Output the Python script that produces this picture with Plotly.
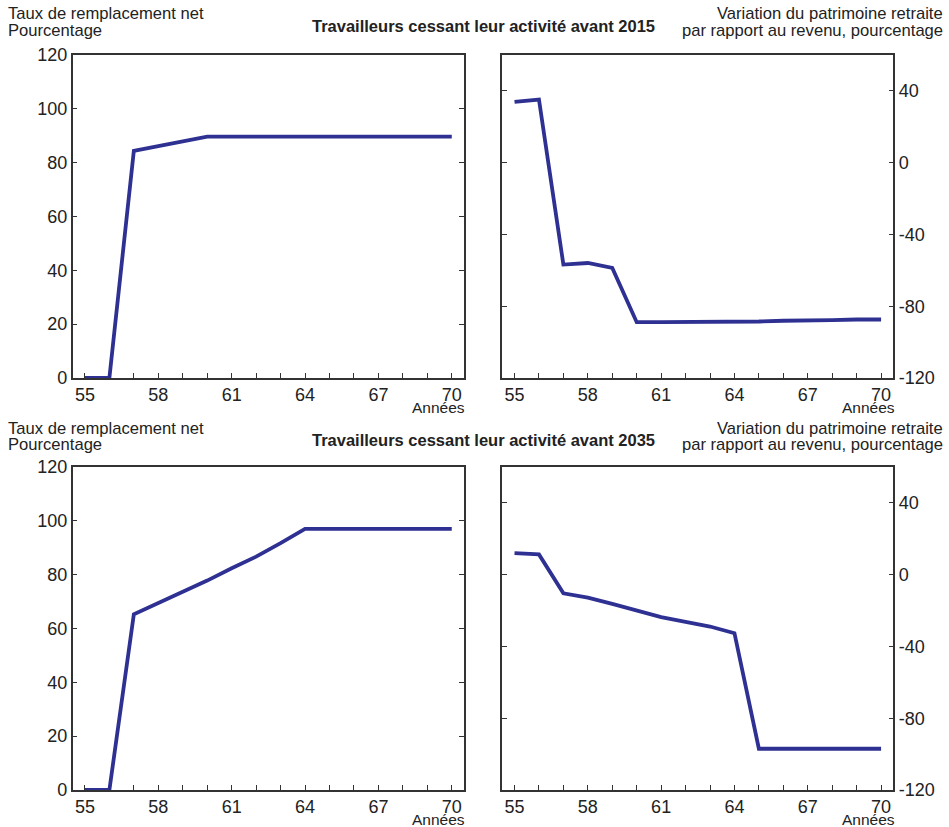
import plotly.graph_objects as go

years = list(range(55, 71))
tick_labels = ["55", "", "", "58", "", "", "61", "", "", "64", "", "", "67", "", "", "70"]

rr_2015 = [0, 0, 84.4, 86.1, 87.8, 89.7, 89.7, 89.7, 89.7, 89.7, 89.7, 89.7, 89.7, 89.7, 89.7, 89.7]
pat_2015 = [33.9, 35.2, -56.8, -55.9, -58.7, -88.9, -88.9, -88.9, -88.9, -88.5, -88.5, -88.1, -88.1, -87.8, -87.4, -87.4]
rr_2035 = [0, 0, 65.3, 69.4, 73.4, 77.8, 82.4, 86.7, 91.7, 97.0, 97.0, 97.0, 97.0, 97.0, 97.0, 97.0]
pat_2035 = [12.0, 11.3, -10.4, -12.8, -16.3, -20.2, -23.7, -26.3, -28.9, -32.6, -97.0, -97.0, -97.0, -97.0, -97.0, -97.0]

left_ticks = [0, 20, 40, 60, 80, 100, 120]
right_ticks = [-120, -80, -40, 0, 40]
right_tick_text = ["-120", "-80", "-40", "0", "40"]

title_top = "Travailleurs cessant leur activité avant 2015"
title_bot = "Travailleurs cessant leur activité avant 2035"
left_lbl = ["Taux de remplacement net", "Pourcentage"]
right_lbl = ["Variation du patrimoine retraite", "par rapport au revenu, pourcentage"]
x_lbl = "Années"

W, H = 949, 827
LINE = "#2e3192"
AX = "#333333"
FONT = "Liberation Sans, Arial, sans-serif"

# panel boxes in pixels
px_left = (72.7, 464)
px_right = (502.3, 893.3)
py_top = (55, 378)
py_bot = (467, 790)

def xd(p):
    return [p[0] / W, p[1] / W]

def yd(p):
    return [1 - p[1] / H, 1 - p[0] / H]

fig = go.Figure()
panels = [
    ("x", "y", rr_2015),
    ("x2", "y2", pat_2015),
    ("x3", "y3", rr_2035),
    ("x4", "y4", pat_2035),
]
for xa, ya, vals in panels:
    fig.add_trace(go.Scatter(x=years, y=vals, xaxis=xa, yaxis=ya, mode="lines",
                             line=dict(color=LINE, width=3.8), showlegend=False,
                             cliponaxis=False))

xcommon = dict(range=[54.5, 70.5], tickvals=years, ticktext=tick_labels, ticks="inside",
               ticklen=5, tickwidth=1, tickcolor=AX, showline=True, linecolor=AX, linewidth=1.5,
               mirror=True, showgrid=False, zeroline=False, tickfont=dict(size=18, color="#222"),
               automargin=False)
ycommon = dict(ticks="inside", ticklen=5, tickwidth=1, tickcolor=AX, showline=True, linecolor=AX,
               linewidth=1.5, mirror="ticks", showgrid=False, zeroline=False,
               tickfont=dict(size=18, color="#222"), automargin=False)

layout = dict(
    width=W, height=H, margin=dict(l=0, r=0, t=0, b=0),
    paper_bgcolor="white", plot_bgcolor="white",
    font=dict(family=FONT, color="#222"),
    xaxis=dict(domain=xd(px_left), anchor="y", **xcommon),
    xaxis2=dict(domain=xd(px_right), anchor="y2", **xcommon),
    xaxis3=dict(domain=xd(px_left), anchor="y3", **xcommon),
    xaxis4=dict(domain=xd(px_right), anchor="y4", **xcommon),
    yaxis=dict(domain=yd(py_top), anchor="x", range=[0, 120], tickvals=left_ticks, **ycommon),
    yaxis2=dict(domain=yd(py_top), anchor="x2", range=[-120, 60], tickvals=right_ticks,
                ticktext=right_tick_text, side="right", **ycommon),
    yaxis3=dict(domain=yd(py_bot), anchor="x3", range=[0, 120], tickvals=left_ticks, **ycommon),
    yaxis4=dict(domain=yd(py_bot), anchor="x4", range=[-120, 60], tickvals=right_ticks,
                ticktext=right_tick_text, side="right", **ycommon),
)
fig.update_layout(**layout)

def ann(text, x, y, xanchor, align, size=16, bold=False):
    if bold:
        text = "<b>" + text + "</b>"
    fig.add_annotation(text=text, x=x / W, y=1 - y / H, xref="paper", yref="paper",
                       xanchor=xanchor, yanchor="middle", align=align, showarrow=False,
                       font=dict(size=size, family=FONT, color="#222"))

for y0, title in [(0, title_top), (414, title_bot)]:
    ann(left_lbl[0], 6, y0 + 14, "left", "left", size=16.6)
    ann(left_lbl[1], 6, y0 + 31, "left", "left", size=16.6)
    ann(right_lbl[0], 945, y0 + 14, "right", "right", size=16.6)
    ann(right_lbl[1], 945, y0 + 31, "right", "right", size=16.6)
    ann(title, 483, y0 + 26, "center", "center", size=16.5, bold=True)

ann(x_lbl, 467, 407, "right", "right", size=15.5)
ann(x_lbl, 897, 407, "right", "right", size=15.5)
ann(x_lbl, 467, 819, "right", "right", size=15.5)
ann(x_lbl, 897, 819, "right", "right", size=15.5)

fig.write_html("out.html", config={"displayModeBar": False},
               post_script="document.body.style.margin='0';document.body.style.overflow='hidden';")
